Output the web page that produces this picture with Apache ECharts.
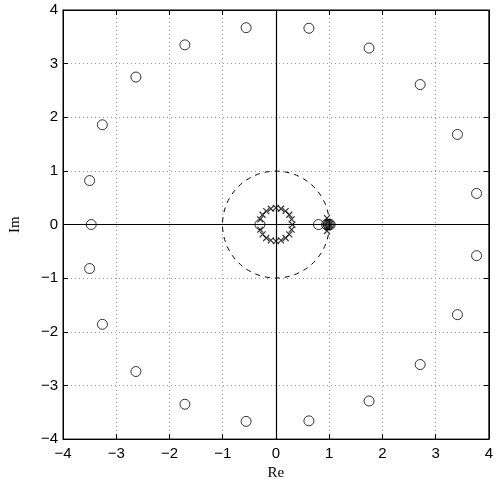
<!DOCTYPE html>
<html>
<head>
<meta charset="utf-8">
<script src="https://cdn.jsdelivr.net/npm/echarts@6/dist/echarts.min.js"></script>
<style>
  html, body { margin: 0; padding: 0; background: #fff; }
  #chart { width: 496px; height: 486px; }
</style>
</head>
<body>
<div id="chart"></div>
<script>
// zeros (o)
const zeros = [
  [-0.56, 3.67], [0.62, 3.66], [1.75, 3.29], [2.71, 2.61], [3.41, 1.68], [3.77, 0.58],
  [3.77, -0.58], [3.41, -1.68], [2.71, -2.61], [1.75, -3.29], [0.62, -3.66], [-0.56, -3.67],
  [-1.71, -3.35], [-2.63, -2.74], [-3.26, -1.86], [-3.50, -0.82], [-3.47, 0],
  [-3.50, 0.82], [-3.26, 1.86], [-2.63, 2.75], [-1.71, 3.35],
  [-0.30, 0], [0.80, 0], [0.95, 0], [0.98, 0], [1.00, 0], [1.02, 0]
]
// poles (x)
const poles = [
  [0.31, 0], [0.295, 0.096], [0.251, 0.182], [0.182, 0.251], [0.096, 0.295],
  [0, 0.31], [-0.096, 0.295], [-0.182, 0.251], [-0.251, 0.182], [-0.295, 0.096],
  [-0.295, -0.096], [-0.251, -0.182], [-0.182, -0.251], [-0.096, -0.295], [0, -0.31],
  [0.096, -0.295], [0.182, -0.251], [0.251, -0.182], [0.295, -0.096],
  [0.96, 0.12], [0.96, -0.12], [0.98, 0.05], [0.98, -0.05], [1.0, 0]
]
// unit circle: centre x, centre y, radius
const unitCircle = [[0, 0, 1]]
const axisMin = -4
const axisMax = 4

const chart = echarts.init(document.getElementById('chart'))

const minus = v => String(v).replace('-', '\u2212')
const tickFont = { color: '#000', fontFamily: 'Liberation Sans, Arial, sans-serif', fontSize: 15 }

const baseAxis = {
  type: 'value',
  min: axisMin,
  max: axisMax,
  interval: 1,
  axisLine: { show: true, onZero: false, lineStyle: { color: '#000', width: 1 } },
  axisTick: { show: true, inside: true, length: 5, lineStyle: { color: '#000' } },
  splitLine: { show: false }
}

const option = {
  animation: false,
  grid: {
    left: 60, right: 4, top: 10, bottom: 42,
    show: true, borderColor: '#000', borderWidth: 1
  },
  xAxis: [
    {
      ...baseAxis,
      position: 'bottom',
      name: 'Re',
      nameLocation: 'middle',
      nameGap: 26,
      nameTextStyle: { color: '#000', fontFamily: 'Liberation Serif', fontSize: 15 },
      axisLabel: { ...tickFont, margin: 7, formatter: minus },
      splitLine: { show: true, lineStyle: { color: '#999', type: [1, 3], width: 1 } }
    },
    { ...baseAxis, position: 'top', axisLabel: { show: false } }
  ],
  yAxis: [
    {
      ...baseAxis,
      position: 'left',
      name: 'Im',
      nameLocation: 'middle',
      nameGap: 40,
      nameTextStyle: { color: '#000', fontFamily: 'Liberation Serif', fontSize: 15 },
      axisLabel: { ...tickFont, margin: 5, formatter: minus },
      splitLine: { show: true, lineStyle: { color: '#999', type: [1, 3], width: 1 } }
    },
    { ...baseAxis, position: 'right', axisLabel: { show: false } }
  ],
  series: [
    {
      type: 'custom',
      silent: true,
      data: unitCircle,
      renderItem: (params, api) => {
        const c = api.coord([api.value(0), api.value(1)])
        const r = api.size([api.value(2), api.value(2)])
        return {
          type: 'circle',
          shape: { cx: c[0], cy: c[1], r: (r[0] + r[1]) / 2 },
          style: { fill: 'none', stroke: '#000', lineWidth: 1, lineDash: [5, 5] }
        }
      },
      markLine: {
        silent: true,
        symbol: 'none',
        label: { show: false },
        lineStyle: { color: '#000', type: 'solid', width: 1.2 },
        data: [{ xAxis: 0 }, { yAxis: 0 }]
      }
    },
    {
      name: 'zeros',
      type: 'scatter',
      data: zeros,
      symbol: 'circle',
      symbolSize: 10,
      itemStyle: { color: 'rgba(255,255,255,0)', borderColor: '#000', borderWidth: 1 }
    },
    {
      name: 'poles',
      type: 'scatter',
      data: poles,
      symbol: 'path://M0,0L10,10M10,0L0,10',
      symbolSize: 6,
      itemStyle: { color: 'none', borderColor: '#000', borderWidth: 1.2 }
    }
  ]
}

chart.setOption(option)
</script>
</body>
</html>
